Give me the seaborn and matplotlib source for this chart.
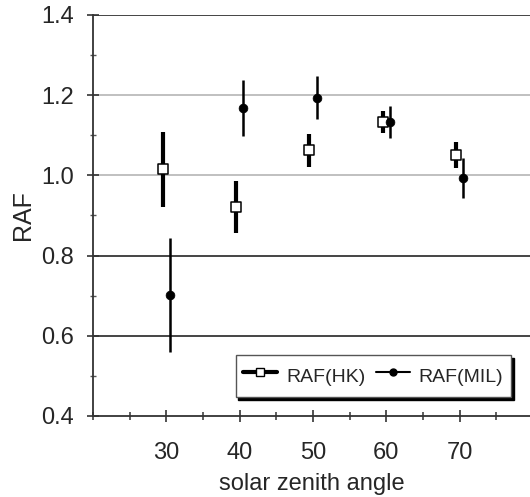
import numpy as np
import pandas as pd
import matplotlib
matplotlib.use("Agg")
import matplotlib.pyplot as plt
from matplotlib.lines import Line2D
from matplotlib.ticker import MultipleLocator
import seaborn as sns

# ---- data ----
hk_x = [29.5, 39.5, 49.5, 59.5, 69.5]
hk_y = [1.015, 0.921, 1.062, 1.133, 1.050]
hk_err = [0.094, 0.066, 0.041, 0.027, 0.032]

mil_x = [30.5, 40.5, 50.5, 60.5, 70.5]
mil_y = [0.702, 1.168, 1.194, 1.133, 0.994]
mil_err = [0.142, 0.070, 0.054, 0.040, 0.050]

x_ticks = [30, 40, 50, 60, 70]
y_ticks = [0.4, 0.6, 0.8, 1.0, 1.2, 1.4]

sns.set_theme(style="white")
plt.rcParams["font.family"] = ["Liberation Sans", "DejaVu Sans"]

fig = plt.figure(figsize=(5.3, 4.97), dpi=100)
ax = fig.add_axes([0.1755, 0.163, 0.8245, 0.807])

# horizontal grid lines (dark for 0.6, 0.8, 1.4; light for 1.0, 1.2)
for yv, col in [(0.6, "#444444"), (0.8, "#444444"), (1.0, "#c0c0c0"),
                (1.2, "#c0c0c0"), (1.4, "#444444")]:
    ax.axhline(yv, color=col, lw=1.4, zorder=0.5)

ax.errorbar(hk_x, hk_y, yerr=hk_err, fmt="none", ecolor="black",
            elinewidth=3.0, capsize=0, zorder=2)
ax.errorbar(mil_x, mil_y, yerr=mil_err, fmt="none", ecolor="black",
            elinewidth=1.8, capsize=0, zorder=2)

df_hk = pd.DataFrame({"x": hk_x, "y": hk_y})
df_mil = pd.DataFrame({"x": mil_x, "y": mil_y})
sns.scatterplot(data=df_hk, x="x", y="y", marker="s", s=48,
                facecolor="white", edgecolor="black", linewidth=1.1,
                ax=ax, zorder=3)
sns.scatterplot(data=df_mil, x="x", y="y", marker="o", s=40,
                color="black", edgecolor="black", linewidth=0.5,
                ax=ax, zorder=3)

ax.set_xlim(20, 79.6)
ax.set_ylim(0.4, 1.4)
ax.set_xticks(x_ticks)
ax.set_xticklabels([str(t) for t in x_ticks])
ax.xaxis.set_minor_locator(MultipleLocator(5))
ax.set_yticks(y_ticks)
ax.set_yticklabels([f"{t:.1f}" for t in y_ticks])
ax.yaxis.set_minor_locator(MultipleLocator(0.1))

for s in ["top", "right"]:
    ax.spines[s].set_visible(False)
for s in ["left", "bottom"]:
    ax.spines[s].set_color("#333333")
    ax.spines[s].set_linewidth(1.3)

ax.tick_params(axis="x", which="major", direction="inout", length=9,
               width=1.2, color="#333333", pad=14, labelsize=17, bottom=True)
ax.tick_params(axis="x", which="minor", direction="inout", length=6,
               width=1.1, color="#333333", bottom=True)
ax.tick_params(axis="y", which="major", direction="inout", length=8,
               width=1.2, color="#333333", pad=10, labelsize=17, left=True)
ax.tick_params(axis="y", which="minor", direction="inout", length=5,
               width=1.0, color="#555555", left=True)

ax.set_xlabel("solar zenith angle", fontsize=17, labelpad=7)
ax.set_ylabel("RAF", fontsize=18, labelpad=4)

handles = [
    Line2D([0], [0], color="black", lw=3.0, marker="s", markersize=6,
           markerfacecolor="white", markeredgecolor="black"),
    Line2D([0], [0], color="black", lw=1.5, marker="o", markersize=5,
           markerfacecolor="black"),
]
leg = ax.legend(handles, ["RAF(HK)", "RAF(MIL)"], ncol=2, fontsize=14,
                loc="lower right", bbox_to_anchor=(0.957, 0.048),
                frameon=True, fancybox=False, handlelength=1.75,
                handleheight=1.7, handletextpad=0.45, columnspacing=0.55,
                borderpad=0.4, borderaxespad=0.0,
                shadow={"facecolor": "black", "edgecolor": "black", "alpha": 1})
leg.get_frame().set_edgecolor("#555555")
leg.get_frame().set_linewidth(1.0)

fig.savefig("out.png", dpi=100)
